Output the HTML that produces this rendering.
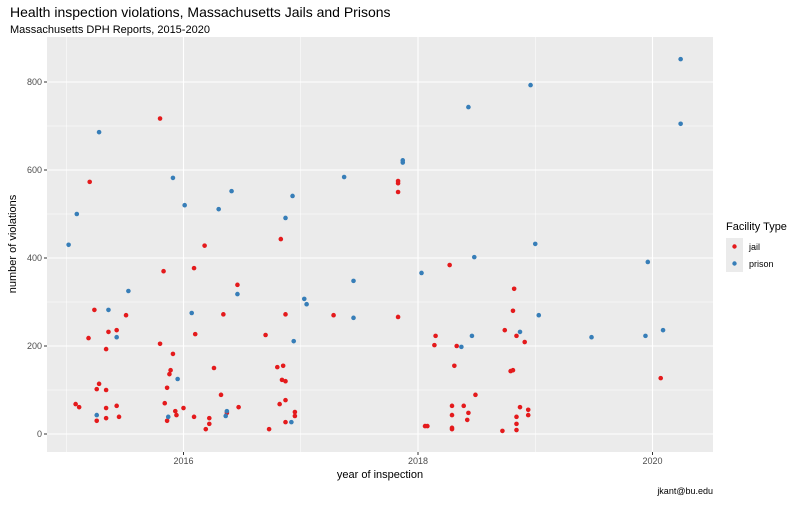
<!DOCTYPE html>
<html><head><meta charset="utf-8"><style>
body{margin:0;background:#fff;font-family:"Liberation Sans",Arial,sans-serif}
svg text{font-family:"Liberation Sans",Arial,sans-serif}
</style></head><body>
<svg id="chart" width="800" height="500">
<rect x="0" y="0" width="800" height="500" fill="#fff"/>
<text x="10" y="17" font-size="14" fill="#000">Health inspection violations, Massachusetts Jails and Prisons</text>
<text x="10" y="33" font-size="11" fill="#000">Massachusetts DPH Reports, 2015-2020</text>
<rect x="47" y="37" width="666" height="415" fill="#ebebeb"/>
<g id="grid"></g>
<g id="points"></g>
<g id="axes"></g>
<text x="380" y="478" font-size="11" text-anchor="middle" fill="#000">year of inspection</text>
<text transform="translate(16,244) rotate(-90)" font-size="11" text-anchor="middle" fill="#000">number of violations</text>
<g>
<text x="726" y="230" font-size="11" fill="#000">Facility Type</text>
<rect x="726" y="238" width="17" height="17" fill="#ebebeb"/>
<circle cx="734.5" cy="246.5" r="2.2" fill="#E41A1C"/>
<text x="749" y="250" font-size="9" fill="#000">jail</text>
<rect x="726" y="255" width="17" height="17" fill="#ebebeb"/>
<circle cx="734.5" cy="263.5" r="2.2" fill="#377EB8"/>
<text x="749" y="267" font-size="9" fill="#000">prison</text>
</g>
<text x="713" y="494" font-size="9" text-anchor="end" fill="#000">jkant@bu.edu</text>
</svg>
<script>
const xTicks=[2016,2018,2020];
const xMinor=[2015,2017,2019];
const yTicks=[0,200,400,600,800];
const yMinor=[100,300,500,700];
const jailYear=[2015.80,2015.20,2016.18,2016.83,2015.83,2016.09,2016.46,2015.24,2015.51,2016.34,2016.87,2015.36,2015.43,2015.19,2016.10,2016.70,2015.80,2015.34,2015.91,2015.89,2015.88,2016.26,2016.80,2016.85,2016.84,2016.87,2015.28,2015.26,2015.34,2015.86,2016.32,2015.08,2015.11,2015.34,2015.43,2015.84,2016.00,2015.93,2015.94,2016.47,2016.82,2016.87,2016.95,2016.95,2015.26,2015.34,2015.45,2015.86,2016.09,2016.22,2016.22,2016.19,2016.37,2016.73,2016.87,
2017.83,2017.83,2017.83,2018.27,2018.82,2018.81,2017.28,2017.83,2018.74,2018.84,2018.15,2018.14,2018.33,2018.91,2018.31,2018.79,2018.81,2018.49,2018.29,2018.39,2018.43,2018.42,2018.29,2018.87,2018.94,2018.94,2018.84,2018.84,2018.84,2018.72,2018.06,2018.08,2018.29,2018.29,2020.07];
const jailCount=[717,573,428,443,370,377,339,282,270,272,272,232,236,218,227,225,205,193,182,145,136,150,152,155,123,120,114,102,100,105,89,68,61,59,64,70,59,52,43,61,68,77,50,41,30,36,39,30,39,36,23,11,48,11,27,
575,570,550,384,330,280,270,266,236,223,223,202,200,209,155,143,145,89,64,64,48,32,43,61,55,43,39,23,9,7,18,18,11,14,127];
const prisonYear=[2015.28,2015.91,2016.41,2016.93,2016.01,2016.30,2015.09,2016.87,2015.02,2015.53,2016.46,2015.36,2016.07,2015.43,2016.94,2015.95,2015.26,2015.87,2016.37,2016.36,2016.92,
2018.43,2017.87,2017.87,2017.37,2019.00,2018.48,2018.03,2017.45,2017.03,2017.05,2017.45,2019.03,2018.87,2018.46,2018.37,2020.24,2018.96,2020.24,2019.96,2019.48,2019.94,2020.09];
const prisonCount=[686,582,552,541,520,511,500,491,430,325,318,282,275,220,211,125,43,39,52,41,27,
743,617,622,584,432,402,366,348,307,295,264,270,232,223,198,852,793,705,391,220,223,236];
const NS='http://www.w3.org/2000/svg';
function xs(y){return 183.5+(y-2016)*117.25;}
function ys(v){return 434-v*0.44;}
function mk(tag,attrs,parent){const e=document.createElementNS(NS,tag);for(const k in attrs)e.setAttribute(k,attrs[k]);parent.appendChild(e);return e;}
const grid=document.getElementById('grid'),pts=document.getElementById('points'),axes=document.getElementById('axes');
xMinor.forEach(t=>{const l=mk('line',{x1:xs(t),x2:xs(t),y1:37,y2:452,stroke:'#fff','stroke-width':0.5},grid);

});
yMinor.forEach(t=>{const l=mk('line',{x1:47,x2:713,y1:ys(t),y2:ys(t),stroke:'#fff','stroke-width':0.5},grid);

});
xTicks.forEach(t=>{const l=mk('line',{x1:xs(t),x2:xs(t),y1:37,y2:452,stroke:'#fff','stroke-width':1.1},grid);


const tk=mk('line',{x1:xs(t),x2:xs(t),y1:452,y2:455,stroke:'#333','stroke-width':1},axes);


const tx=mk('text',{x:xs(t),y:464,'font-size':9,'text-anchor':'middle',fill:'#4d4d4d'},axes);tx.textContent=t;

});
yTicks.forEach(t=>{const l=mk('line',{x1:47,x2:713,y1:ys(t),y2:ys(t),stroke:'#fff','stroke-width':1.1},grid);


const tk=mk('line',{x1:44,x2:47,y1:ys(t),y2:ys(t),stroke:'#333','stroke-width':1},axes);


const tx=mk('text',{x:42,y:ys(t)+3,'font-size':9,'text-anchor':'end',fill:'#4d4d4d'},axes);tx.textContent=t;

});
jailYear.forEach((y,i)=>{const c=mk('circle',{cx:xs(y),cy:ys(jailCount[i]),r:2.3,fill:'#E41A1C'},pts);

});
prisonYear.forEach((y,i)=>{const c=mk('circle',{cx:xs(y),cy:ys(prisonCount[i]),r:2.3,fill:'#377EB8'},pts);

});
</script>
</body></html>
